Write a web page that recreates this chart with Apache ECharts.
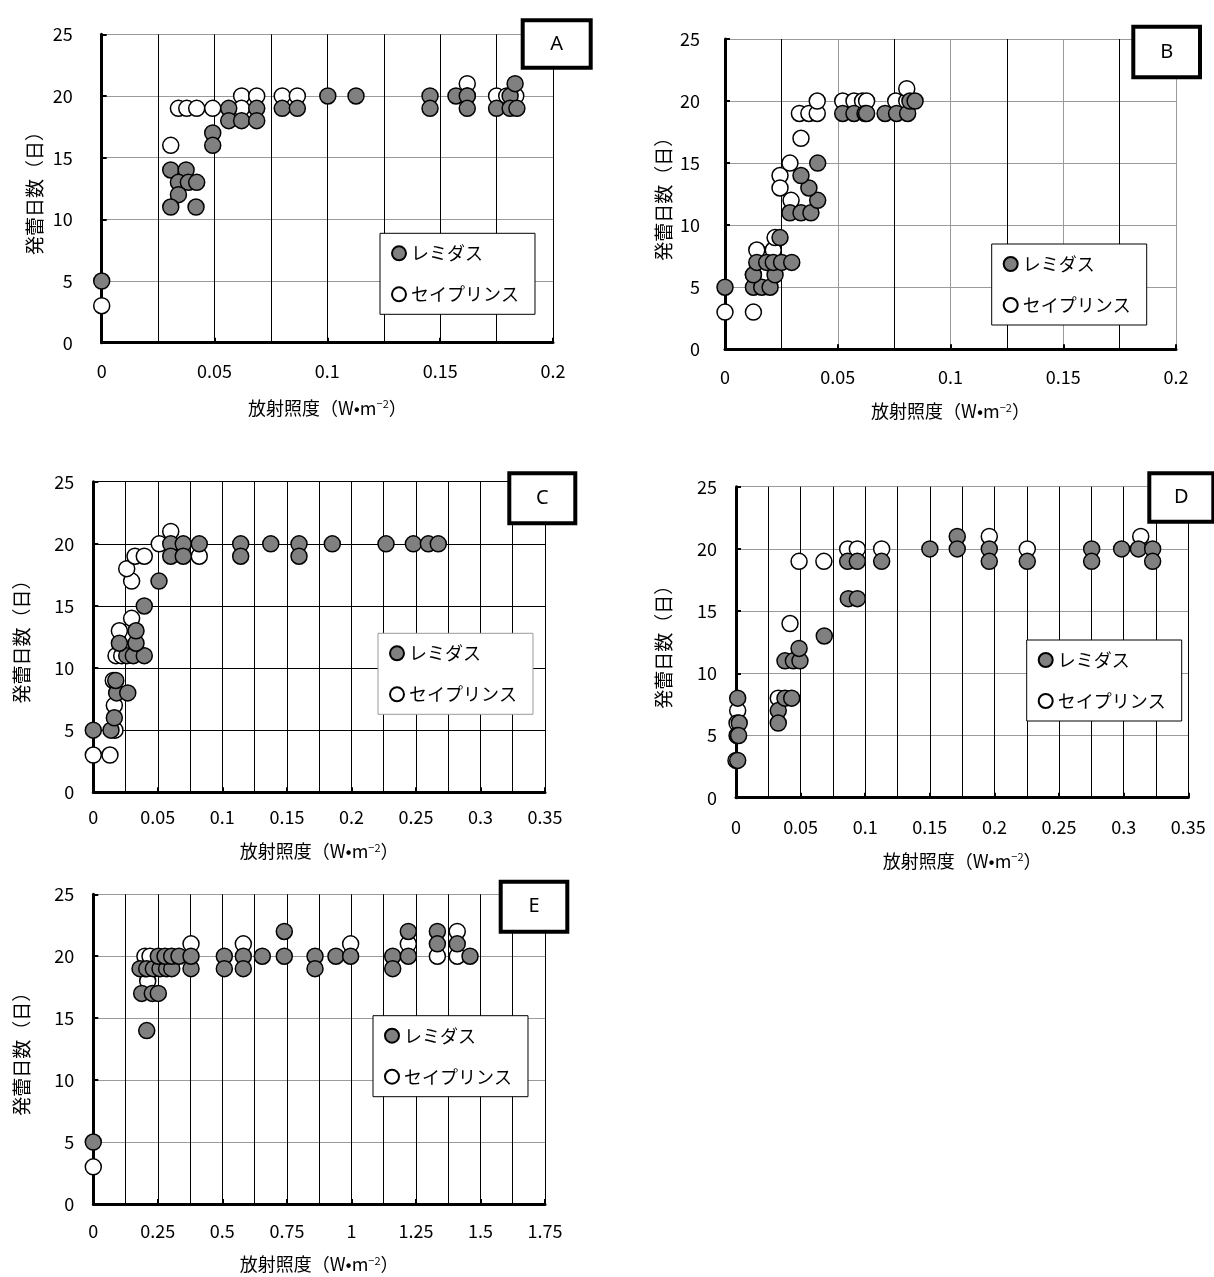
<!DOCTYPE html>
<html>
<head>
<meta charset="utf-8">
<script src="https://cdn.jsdelivr.net/npm/echarts/dist/echarts.min.js"></script>
<style>
html, body { margin: 0; padding: 0; background: #fff; }
#chart { width: 1214px; height: 1277px; }
</style>
</head>
<body>
<div id="chart"></div>
<script>
// 品種名と軸目盛
const cultivars = ['レミダス', 'セイプリンス'];
const panelLabels = ['A', 'B', 'C', 'D', 'E'];
const yTicks = [0, 5, 10, 15, 20, 25];
const xTicksA = [0, 0.05, 0.1, 0.15, 0.2];
const xTicksB = [0, 0.05, 0.1, 0.15, 0.2];
const xTicksC = [0, 0.05, 0.1, 0.15, 0.2, 0.25, 0.3, 0.35];
const xTicksD = [0, 0.05, 0.1, 0.15, 0.2, 0.25, 0.3, 0.35];
const xTicksE = [0, 0.25, 0.5, 0.75, 1, 1.25, 1.5, 1.75];

// [放射照度 (W·m^-2), 発蕾日数 (日)]
const remidasA = [[0,5],[0.0306,14],[0.0374,14],[0.034,13],[0.0384,13],[0.0421,13],[0.034,12],[0.0306,11],[0.0418,11],[0.0492,17],[0.0492,16],[0.0563,19],[0.0563,18],[0.062,18],[0.0687,19],[0.0687,18],[0.08,19],[0.0867,19],[0.1002,20],[0.1127,20],[0.1455,20],[0.1455,19],[0.157,20],[0.162,20],[0.162,19],[0.175,19],[0.181,20],[0.181,19],[0.1832,21],[0.184,19]];
const seiprinsA = [[0,3],[0.0306,16],[0.034,19],[0.0377,19],[0.0421,19],[0.0492,19],[0.062,20],[0.062,19],[0.0687,20],[0.08,20],[0.0867,20],[0.162,21],[0.162,20],[0.175,20],[0.1795,20],[0.1825,20],[0.1835,20]];

const remidasB = [[0,5],[0.0126,5],[0.0163,5],[0.02,5],[0.0126,6],[0.0222,6],[0.0141,7],[0.0185,7],[0.0214,7],[0.0251,7],[0.0296,7],[0.0244,9],[0.0288,11],[0.0337,11],[0.0381,11],[0.0411,12],[0.0372,13],[0.0337,14],[0.0411,15],[0.0522,19],[0.0572,19],[0.0621,19],[0.0628,19],[0.071,19],[0.0761,19],[0.081,19],[0.082,20],[0.0843,20]];
const seiprinsB = [[0,3],[0.0126,3],[0.0126,6],[0.0141,8],[0.0214,8],[0.0222,9],[0.0244,14],[0.0244,13],[0.0293,12],[0.0288,15],[0.0337,17],[0.033,19],[0.0372,19],[0.0409,19],[0.0409,20],[0.0522,20],[0.0572,20],[0.061,20],[0.0628,20],[0.0757,20],[0.0806,20],[0.0806,21]];

const remidasC = [[0,5],[0.0137,5],[0.0163,6],[0.0181,8],[0.0267,8],[0.0174,9],[0.0259,11],[0.031,11],[0.0395,11],[0.0202,12],[0.0331,12],[0.0331,13],[0.0395,15],[0.0509,17],[0.06,20],[0.0697,20],[0.0821,20],[0.1142,20],[0.1375,20],[0.1594,20],[0.1852,20],[0.2268,20],[0.248,20],[0.2596,20],[0.2673,20],[0.06,19],[0.0697,19],[0.1142,19],[0.1594,19]];
const seiprinsC = [[0,3],[0.0129,3],[0.0168,5],[0.0163,7],[0.0155,9],[0.0176,11],[0.022,11],[0.0202,13],[0.0297,14],[0.0297,17],[0.0259,18],[0.0323,19],[0.0395,19],[0.0511,20],[0.06,21],[0.0821,19]];

const remidasD = [[0.0013,8],[0.0025,6],[0.0008,5],[0.002,5],[0.0013,3],[0.0327,7],[0.0327,6],[0.0379,8],[0.0431,8],[0.0379,11],[0.0444,11],[0.0495,11],[0.0488,12],[0.0683,13],[0.0869,16],[0.0939,16],[0.0864,19],[0.0939,19],[0.1127,19],[0.15,20],[0.1712,21],[0.1712,20],[0.196,20],[0.196,19],[0.2254,19],[0.2752,20],[0.2752,19],[0.2984,20],[0.3114,20],[0.3224,20],[0.3224,19]];
const seiprinsD = [[0,3],[0.0013,7],[0.0008,6],[0.0327,8],[0.0418,14],[0.0488,19],[0.068,19],[0.0864,20],[0.0939,20],[0.1127,20],[0.196,21],[0.2254,20],[0.3132,21]];

const remidasE = [[0,5],[0.207,14],[0.1875,17],[0.2286,17],[0.2519,17],[0.181,19],[0.207,19],[0.2325,19],[0.2584,19],[0.284,19],[0.304,19],[0.3786,19],[0.2519,20],[0.2778,20],[0.3037,20],[0.332,20],[0.3786,20],[0.5076,20],[0.5076,19],[0.5812,20],[0.5812,19],[0.6548,20],[0.74,20],[0.74,22],[0.859,20],[0.859,19],[0.94,20],[0.997,20],[1.16,20],[1.16,19],[1.2205,22],[1.2205,20],[1.333,22],[1.333,21],[1.41,21],[1.4595,20]];
const seiprinsE = [[0,3],[0.2108,18],[0.2,19],[0.2,20],[0.2197,20],[0.3786,21],[0.5812,21],[0.997,21],[1.2205,21],[1.333,20],[1.41,22],[1.41,20]];

const FONT = '"Noto Sans CJK JP", "Noto Sans", sans-serif';
const GRAY = '#9a9a9a';
const BLACK = '#000';

// パネルごとの配置と線の色
const panels = [
  { xTicks: xTicksA, rem: remidasA, sei: seiprinsA,
    grid: { left: 101.7, top: 34.3, width: 451.3, height: 308.4 },
    xMajor: BLACK, xMinor: BLACK, yLine: GRAY,
    xMargin: 19, yMargin: 29, xNameGap: 56, yNameGap: 57,
    legend: { left: 380, top: 233.3, border: BLACK },
    tag: { x: 522.7, y: 20.3, w: 68, h: 47.4 } },
  { xTicks: xTicksB, rem: remidasB, sei: seiprinsB,
    grid: { left: 725, top: 39, width: 451, height: 310.3 },
    xMajor: GRAY, xMinor: BLACK, yLine: GRAY,
    xMargin: 19, yMargin: 25, xNameGap: 53, yNameGap: 52,
    legend: { left: 991.7, top: 244, border: BLACK },
    tag: { x: 1133.3, y: 26.7, w: 66.7, h: 50.6 } },
  { xTicks: xTicksC, rem: remidasC, sei: seiprinsC,
    grid: { left: 93.3, top: 481.7, width: 451.7, height: 310.6 },
    xMajor: BLACK, xMinor: BLACK, yLine: BLACK,
    xMargin: 16, yMargin: 19, xNameGap: 50, yNameGap: 62,
    legend: { left: 378, top: 633.3, border: GRAY },
    tag: { x: 509.3, y: 473.3, w: 66, h: 50 } },
  { xTicks: xTicksD, rem: remidasD, sei: seiprinsD,
    grid: { left: 736, top: 486.7, width: 452.3, height: 311 },
    xMajor: BLACK, xMinor: BLACK, yLine: GRAY,
    xMargin: 20, yMargin: 19, xNameGap: 54, yNameGap: 63,
    legend: { left: 1026.7, top: 640, border: BLACK },
    tag: { x: 1149.3, y: 473.3, w: 64, h: 48.4 } },
  { xTicks: xTicksE, rem: remidasE, sei: seiprinsE,
    grid: { left: 93.3, top: 894.3, width: 451.7, height: 309.7 },
    xMajor: BLACK, xMinor: BLACK, yLine: GRAY,
    xMargin: 18, yMargin: 19, xNameGap: 51, yNameGap: 62,
    legend: { left: 373, top: 1015.7, border: BLACK },
    tag: { x: 500.7, y: 881.7, w: 66.6, h: 50 } }
];

const grids = [], xAxes = [], yAxes = [], series = [], legends = [], graphics = [];

panels.forEach((p, i) => {
  grids.push(Object.assign({ containLabel: false }, p.grid));

  xAxes.push({
    gridIndex: i, type: 'value',
    min: p.xTicks[0], max: p.xTicks[p.xTicks.length - 1],
    interval: p.xTicks[1] - p.xTicks[0],
    axisLine: { show: true, onZero: false, lineStyle: { color: BLACK, width: 3 } },
    axisTick: { show: true, inside: true, length: 5, lineStyle: { color: BLACK, width: 2 } },
    axisLabel: { margin: p.xMargin, fontSize: 18, color: BLACK, fontFamily: FONT,
                 showMinLabel: true, showMaxLabel: true },
    splitLine: { show: true, lineStyle: { color: p.xMajor, width: 1 } },
    minorTick: { show: false, splitNumber: 2 },
    minorSplitLine: { show: true, lineStyle: { color: p.xMinor, width: 1 } },
    name: '放射照度（W•m{sup|−2}）',
    nameLocation: 'middle', nameGap: p.xNameGap,
    nameTextStyle: { fontSize: 18, color: BLACK, fontFamily: FONT,
      rich: { sup: { fontSize: 11, color: BLACK, fontFamily: FONT, verticalAlign: 'top' } } }
  });

  yAxes.push({
    gridIndex: i, type: 'value',
    min: yTicks[0], max: yTicks[yTicks.length - 1], interval: yTicks[1] - yTicks[0],
    axisLine: { show: true, onZero: false, lineStyle: { color: BLACK, width: 3 } },
    axisTick: { show: true, inside: true, length: 5, lineStyle: { color: BLACK, width: 2 } },
    axisLabel: { margin: p.yMargin, fontSize: 18, color: BLACK, fontFamily: FONT },
    splitLine: { show: true, lineStyle: { color: p.yLine, width: 1 } },
    name: '発蕾日数（日）',
    nameLocation: 'middle', nameRotate: 90, nameGap: p.yNameGap,
    nameTextStyle: { fontSize: 19, color: BLACK, fontFamily: FONT }
  });

  // 白抜き（セイプリンス）を先に、塗り（レミダス）を上に重ねる
  series.push({
    name: cultivars[1], type: 'scatter', xAxisIndex: i, yAxisIndex: i,
    data: p.sei, symbol: 'circle', symbolSize: 16, clip: false, silent: true,
    itemStyle: { color: '#fff', borderColor: BLACK, borderWidth: 1.5, opacity: 1 }
  });
  series.push({
    name: cultivars[0], type: 'scatter', xAxisIndex: i, yAxisIndex: i,
    data: p.rem, symbol: 'circle', symbolSize: 16, clip: false, silent: true,
    itemStyle: { color: '#808080', borderColor: BLACK, borderWidth: 1.5, opacity: 1 }
  });

  legends.push({
    left: p.legend.left, top: p.legend.top, orient: 'vertical',
    data: cultivars, icon: 'circle', itemWidth: 14, itemHeight: 14, itemGap: 21,
    padding: [10, 16, 10, 11], backgroundColor: '#fff',
    borderColor: p.legend.border, borderWidth: 1, borderRadius: 0,
    selectedMode: false, z: 5,
    textStyle: { fontSize: 18, lineHeight: 20, color: BLACK, fontFamily: FONT }
  });

  const t = p.tag;
  graphics.push({
    type: 'rect', z: 10,
    shape: { x: t.x, y: t.y, width: t.w, height: t.h },
    style: { fill: '#fff', stroke: BLACK, lineWidth: 4 }
  });
  graphics.push({
    type: 'text', z: 11, x: t.x + t.w / 2, y: t.y + t.h / 2,
    style: { text: panelLabels[i], fill: BLACK, font: '20px "Noto Sans", sans-serif',
             align: 'center', verticalAlign: 'middle' }
  });
});

const chart = echarts.init(document.getElementById('chart'), null, { renderer: 'canvas' });
chart.setOption({
  animation: false,
  backgroundColor: '#fff',
  grid: grids,
  xAxis: xAxes,
  yAxis: yAxes,
  legend: legends,
  series: series,
  graphic: graphics
});
</script>
</body>
</html>
